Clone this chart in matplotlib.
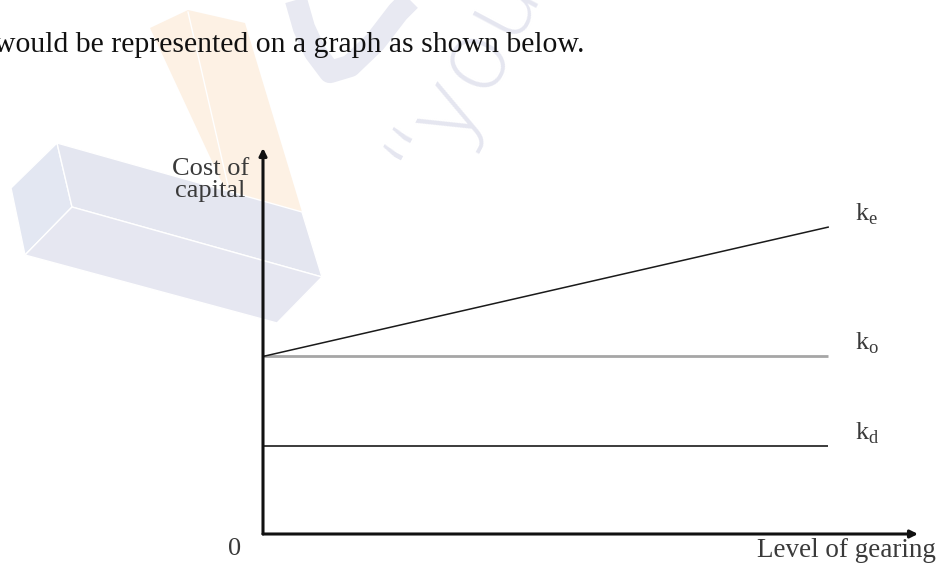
import matplotlib
matplotlib.use("Agg")
import matplotlib.pyplot as plt
from matplotlib.patches import Polygon

plt.rcParams["font.family"] = ["Liberation Serif", "DejaVu Serif"]
plt.rcParams["mathtext.fontset"] = "custom"
plt.rcParams["mathtext.rm"] = "Liberation Serif"

# data
gearing = [0.0, 1.0]
k_e = [0.46, 0.795]
k_o = [0.46, 0.46]
k_d = [0.228, 0.228]
line_labels = [r"$\mathrm{k}_{\mathrm{e}}$", r"$\mathrm{k}_{\mathrm{o}}$", r"$\mathrm{k}_{\mathrm{d}}$"]

W, H = 937, 572
fig = plt.figure(figsize=(W / 100, H / 100), dpi=100)


def fx(x, y):
    # pixel (from top-left) -> figure fraction
    return (x / W, 1 - y / H)


# faint watermark shapes behind everything
blue = "#e4e6f0"
orange = "#fdf1e4"
fig.add_artist(Polygon([fx(150, 28), fx(188, 10), fx(245, 23), fx(302, 212), fx(230, 200)],
                       closed=True, fc=orange, ec="none", zorder=0))
fig.add_artist(plt.Line2D([188 / W, 229 / W], [1 - 12 / H, 1 - 190 / H], color="white", lw=1, zorder=0.2))
fig.add_artist(Polygon([fx(57, 143), fx(11, 188), fx(25, 255), fx(72, 207)],
                       closed=True, fc="#e3e7f2", ec="white", lw=1, zorder=0.5))
fig.add_artist(Polygon([fx(57, 143), fx(72, 207), fx(322, 277), fx(302, 212)],
                       closed=True, fc=blue, ec="white", lw=1, zorder=0.5))
fig.add_artist(Polygon([fx(72, 207), fx(25, 255), fx(277, 323), fx(322, 277)],
                       closed=True, fc="#e6e7f1", ec="white", lw=1, zorder=0.5))
arc_x = [296, 304, 315, 330, 350, 375, 398, 410]
arc_y = [0, 28, 52, 72, 66, 42, 12, 0]
fig.add_artist(plt.Line2D([x / W for x in arc_x], [1 - y / H for y in arc_y],
                          color="#e8e9f2", lw=16, solid_capstyle="butt", zorder=0))
fig.text(462 / W, 1 - 70 / H, "\u201cyou", fontsize=70, rotation=62, color="#e5e6f0",
         family="DejaVu Sans", weight="light", ha="center", va="center", zorder=0)

fig.text(-6 / W, 1 - 45 / H, "would be represented on a graph as shown below.",
         fontsize=21.4, color="#111111", ha="left", va="center", zorder=3)

x0, x1, y0, y1 = 263, 918, 534, 148
ax = fig.add_axes([x0 / W, 1 - y0 / H, (x1 - x0) / W, (y0 - y1) / H])
ax.set_zorder(2)
ax.patch.set_alpha(0)
ax.set_xlim(0, 1.159)
ax.set_ylim(0, 1)
ax.set_axis_off()

ax.plot(gearing, k_o, color="#a6a6a6", lw=2.0, solid_capstyle="butt")
ax.plot(gearing, k_e, color="#1a1a1a", lw=1.1)
ax.plot(gearing, k_d, color="#1a1a1a", lw=1.2, solid_capstyle="butt")

for ys, lab in zip([k_e, k_o, k_d], line_labels):
    ax.annotate(lab, xy=(gearing[-1], ys[-1]), xytext=(19, 0), textcoords="offset points",
                fontsize=19, color="#3a3a3a", ha="left", va="bottom")

arrow = dict(arrowstyle="-|>", lw=2.2, color="#111111", mutation_scale=11, shrinkA=0, shrinkB=0)
ax.annotate("", xy=(1, 0), xytext=(0, 0), xycoords="axes fraction", arrowprops=arrow)
ax.annotate("", xy=(0, 1), xytext=(0, 0), xycoords="axes fraction", arrowprops=arrow)

lab_c = "#3a3a3a"
ax.text(-0.044, -0.04, "0", transform=ax.transAxes, fontsize=19, color=lab_c, ha="center", va="center")
ax.text(1.027, -0.043, "Level of gearing", transform=ax.transAxes, fontsize=19.5, color=lab_c,
        ha="right", va="center")
ax.text(-0.08, 0.917, "Cost of\ncapital", transform=ax.transAxes, fontsize=19, color=lab_c,
        ha="center", va="center", linespacing=1.0)

fig.savefig("out.png", dpi=100)
